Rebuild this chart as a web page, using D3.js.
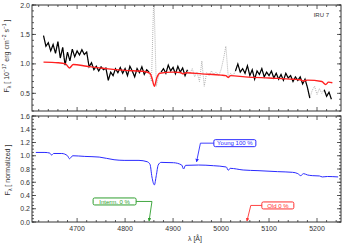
<!DOCTYPE html>
<html>
<head>
<meta charset="utf-8">
<script src="https://cdn.jsdelivr.net/npm/d3@7"></script>
<style>
  body { margin: 0; background: #fff; }
  svg text { font-family: "Liberation Sans", Arial, sans-serif; fill: #333; }
  .axis path, .axis line { stroke: #333; }
</style>
</head>
<body>
<svg id="chart" width="351" height="246"></svg>
<script>
// observed spectrum, 5 A grid starting at 4630
var obsStart = 4630, obsStep = 5;
var obsFlux = [
  1.48, 1.30, 1.36, 1.22, 1.33, 1.18, 1.38, 1.10, 1.28, 0.98,
  1.20, 1.05, 1.25, 1.12, 1.22, 1.15, 1.24, 1.16, 1.20, 0.95,
  1.02, 0.90, 0.96, 0.88, 0.95, 0.90, 0.93, 0.72, 0.86, 0.80,
  0.92, 0.85, 0.94, 0.84, 0.92, 0.80, 0.96, 0.88, 0.78, 0.92,
  0.85, 0.95, 0.82, 0.90, 0.86, 0.70, 2.20, 0.62, 0.80, 0.86,
  0.92, 0.84, 0.98, 0.88, 0.94, 0.83, 0.96, 0.86, 0.93, 0.80,
  0.90, 0.84, 0.92, 0.78, 0.86, 0.70, 1.05, 0.62, 0.85, 0.80,
  0.88, 0.82, 0.86, 0.80, 0.90, 1.08, 1.30, 0.78, 0.84, 0.80,
  0.88, 1.00, 0.86, 0.92, 0.84, 0.97, 0.80, 0.90, 0.74, 0.88,
  0.82, 0.92, 0.78, 0.86, 0.80, 0.88, 0.76, 0.84, 0.74, 0.82,
  0.72, 0.84, 0.76, 0.80, 0.70, 0.78, 0.72, 0.78, 0.66, 0.74,
  0.60, 0.42, 0.55, 0.62, 0.48, 0.58, 0.50, 0.56, 0.45, 0.52,
  0.40
];
var maskRanges = [[4852, 4872], [4933, 5030], [5188, 5212]];

// fitted model
var modelWave = [4630, 4660, 4676, 4684, 4692, 4720, 4760, 4800, 4840, 4852, 4856, 4861, 4866, 4872,
  4900, 4915, 4921, 4927, 4960, 5000, 5010, 5015, 5020, 5050, 5100, 5150, 5165, 5172, 5180, 5210, 5218, 5224, 5232];
var modelFlux = [1.03, 1.02, 1.0, 0.93, 0.99, 0.96, 0.92, 0.89, 0.87, 0.84, 0.76, 0.62, 0.76, 0.84,
  0.86, 0.855, 0.83, 0.85, 0.83, 0.81, 0.80, 0.77, 0.80, 0.78, 0.76, 0.74, 0.73, 0.71, 0.725, 0.70, 0.65, 0.69, 0.68];

// normalized spectrum
var normWave = [4614, 4633, 4643, 4647, 4651, 4668, 4680, 4684, 4691, 4716, 4746, 4777, 4798, 4829, 4846,
  4852, 4856, 4861, 4865, 4869, 4875, 4901, 4918, 4922, 4926, 4953, 4984, 5011, 5015, 5019, 5046, 5077,
  5118, 5149, 5160, 5166, 5172, 5180, 5190, 5205, 5211, 5222, 5244];
var normFlux = [1.05, 1.05, 1.04, 1.01, 1.034, 1.034, 1.0, 0.955, 1.0, 0.99, 0.98, 0.94, 0.93, 0.93, 0.91,
  0.87, 0.68, 0.56, 0.70, 0.86, 0.90, 0.895, 0.86, 0.80, 0.855, 0.86, 0.85, 0.83, 0.78, 0.81, 0.785, 0.775,
  0.76, 0.75, 0.73, 0.70, 0.73, 0.71, 0.70, 0.695, 0.68, 0.687, 0.68];

// populations
var popNames = ["Young", "Interm.", "Old"];
var popPercent = [100, 0, 0];
var popColors = ["#2a2aff", "#2e9e2e", "#ff3030"];
var popTargetWave = [4949, 4850, 5054];
var popTargetFlux = [0.895, 0, 0];
var popElbowWave = [4957, 4856, 5062];
var popBoxWave = [4985, 4823, 5085];
var popBoxFlux = [1.19, 0.31, 0.25];
var popBoxSide = ["left", "right", "left"];
var popBoxWidth = [42, 43, 32];

var xTicks = [4700, 4800, 4900, 5000, 5100, 5200];
var topYTicks = [0.5, 1.0, 1.5, 2.0];
var botYTicks = [0.0, 0.2, 0.4, 0.6, 0.8, 1.0, 1.2, 1.4, 1.6];

var svg = d3.select("#chart");

var x = d3.scaleLinear().domain([4606, 5250]).range([32, 341]);
var yTop = d3.scaleLinear().domain([0.2, 2.0]).range([111, 5]);
var yBot = d3.scaleLinear().domain([0, 1.6]).range([222, 116]);

var xMinor = d3.range(4620, 5250, 20).filter(function(d) { return d % 100 !== 0; });

function drawFrame(y, yMinorStep, yTickVals, yFmt) {
  var r = y.range();
  var x0 = x.range()[0], x1 = x.range()[1];
  var yMinor = d3.range(y.domain()[0], y.domain()[1] + 1e-6, yMinorStep);

  svg.append("rect")
    .attr("x", x0).attr("y", r[1])
    .attr("width", x1 - x0).attr("height", r[0] - r[1])
    .attr("fill", "none").attr("stroke", "#333").attr("stroke-width", 1);

  var g = svg.append("g").attr("stroke", "#333").attr("stroke-width", 0.8);
  // x ticks bottom and top
  [[xTicks, 4], [xMinor, 2]].forEach(function(t) {
    g.selectAll(null).data(t[0]).enter().append("line")
      .attr("x1", x).attr("x2", x).attr("y1", r[0]).attr("y2", r[0] - t[1]);
    g.selectAll(null).data(t[0]).enter().append("line")
      .attr("x1", x).attr("x2", x).attr("y1", r[1]).attr("y2", r[1] + t[1]);
  });
  // y ticks left and right
  [[yTickVals, 4], [yMinor, 2]].forEach(function(t) {
    g.selectAll(null).data(t[0]).enter().append("line")
      .attr("y1", y).attr("y2", y).attr("x1", x0).attr("x2", x0 + t[1]);
    g.selectAll(null).data(t[0]).enter().append("line")
      .attr("y1", y).attr("y2", y).attr("x1", x1).attr("x2", x1 - t[1]);
  });

  svg.append("g").selectAll("text").data(yTickVals).enter().append("text")
    .attr("x", x0 - 2).attr("y", function(d) { return y(d) + 2.5; })
    .attr("text-anchor", "end").attr("font-size", 7)
    .text(yFmt);
}

// ---- top panel ----
svg.append("clipPath").attr("id", "clipTop").append("rect")
  .attr("x", 32).attr("y", 5).attr("width", 309).attr("height", 106);

var obs = obsFlux.map(function(v, i) { return {w: obsStart + i * obsStep, f: v}; });
function masked(w) {
  return maskRanges.some(function(m) { return w > m[0] && w < m[1]; });
}

var topG = svg.append("g").attr("clip-path", "url(#clipTop)");

topG.append("path")
  .datum(obs)
  .attr("fill", "none").attr("stroke", "#aaa").attr("stroke-width", 0.9)
  .attr("stroke-dasharray", "1,1")
  .attr("d", d3.line().x(function(d) { return x(d.w); }).y(function(d) { return yTop(d.f); }));

topG.append("path")
  .datum(obs)
  .attr("fill", "none").attr("stroke", "#000").attr("stroke-width", 1.2)
  .attr("d", d3.line()
    .defined(function(d) { return !masked(d.w); })
    .x(function(d) { return x(d.w); }).y(function(d) { return yTop(d.f); }));

topG.append("path")
  .datum(modelWave.map(function(w, i) { return [w, modelFlux[i]]; }))
  .attr("fill", "none").attr("stroke", "#ff2020").attr("stroke-width", 1.4)
  .attr("d", d3.line().curve(d3.curveMonotoneX)
    .x(function(d) { return x(d[0]); }).y(function(d) { return yTop(d[1]); }));

drawFrame(yTop, 0.1, topYTicks, d3.format(".1f"));

svg.append("text").attr("x", 329).attr("y", 16.5)
  .attr("text-anchor", "end").attr("font-size", 6).text("IRU 7");

var yl1 = svg.append("text")
  .attr("transform", "translate(9,56) rotate(-90)")
  .attr("text-anchor", "middle").attr("font-size", 7);
yl1.append("tspan").text("F");
yl1.append("tspan").attr("font-size", 5).attr("dy", 1.5).text("λ");
yl1.append("tspan").attr("dy", -1.5).text(" [ 10");
yl1.append("tspan").attr("font-size", 5).attr("dy", -3).text("−17");
yl1.append("tspan").attr("dy", 3).text(" erg cm");
yl1.append("tspan").attr("font-size", 5).attr("dy", -3).text("−2");
yl1.append("tspan").attr("dy", 3).text(" s");
yl1.append("tspan").attr("font-size", 5).attr("dy", -3).text("−1");
yl1.append("tspan").attr("dy", 3).text(" ]");

// ---- bottom panel ----
svg.append("path")
  .datum(normWave.map(function(w, i) { return [w, normFlux[i]]; }))
  .attr("fill", "none").attr("stroke", "#2a2aff").attr("stroke-width", 1)
  .attr("d", d3.line().curve(d3.curveMonotoneX)
    .x(function(d) { return x(d[0]); }).y(function(d) { return yBot(d[1]); }));

drawFrame(yBot, 0.05, botYTicks, d3.format(".1f"));

svg.append("g").selectAll("text").data(xTicks).enter().append("text")
  .attr("x", x).attr("y", 231)
  .attr("text-anchor", "middle").attr("font-size", 7)
  .text(function(d) { return d; });

svg.append("text").attr("x", 195).attr("y", 241)
  .attr("text-anchor", "middle").attr("font-size", 7).text("λ [Å]");

var yl2 = svg.append("text")
  .attr("transform", "translate(10,170) rotate(-90)")
  .attr("text-anchor", "middle").attr("font-size", 7);
yl2.append("tspan").text("F");
yl2.append("tspan").attr("font-size", 5).attr("dy", 1.5).text("λ");
yl2.append("tspan").attr("dy", -1.5).text(" [ normalized ]");

// population annotations
var defs = svg.append("defs");
popColors.forEach(function(c, i) {
  defs.append("marker").attr("id", "arr" + i)
    .attr("viewBox", "0 0 6 6").attr("refX", 5).attr("refY", 3)
    .attr("markerWidth", 4).attr("markerHeight", 4).attr("orient", "auto")
    .append("path").attr("d", "M0,0L6,3L0,6Z").attr("fill", c);
});

popNames.forEach(function(name, i) {
  var c = popColors[i];
  var bx = x(popBoxWave[i]), by = yBot(popBoxFlux[i]);
  var w = popBoxWidth[i], h = 7;
  var left = popBoxSide[i] === "left" ? bx : bx - w;
  var ex = x(popElbowWave[i]);
  svg.append("path")
    .attr("d", "M" + bx + "," + by + "L" + ex + "," + by + "L" + x(popTargetWave[i]) + "," + (yBot(popTargetFlux[i]) - 1))
    .attr("fill", "none").attr("stroke", c).attr("stroke-width", 0.9)
    .attr("marker-end", "url(#arr" + i + ")");
  svg.append("rect")
    .attr("x", left).attr("y", by - h / 2).attr("width", w).attr("height", h)
    .attr("rx", 1.5).attr("fill", "#fff").attr("stroke", c).attr("stroke-width", 1);
  svg.append("text")
    .attr("x", left + w / 2).attr("y", by + 2.2)
    .attr("text-anchor", "middle").attr("font-size", 6)
    .style("fill", c)
    .text(name + "  " + popPercent[i] + " %");
});
</script>
</body>
</html>
